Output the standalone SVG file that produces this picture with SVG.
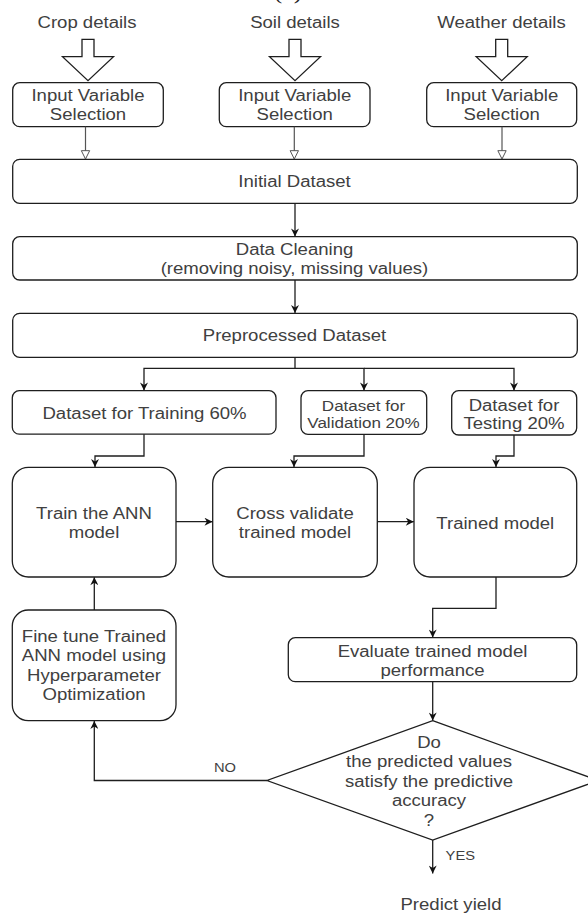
<svg xmlns="http://www.w3.org/2000/svg" width="588" height="914" viewBox="0 0 588 914">
  <defs>
    <style>
      .box { fill: #ffffff; stroke: #1e1e1e; stroke-width: 1.3; }
      .blk { fill: #ffffff; stroke: #1e1e1e; stroke-width: 1.3; stroke-linejoin: miter; }
      .ln { fill: none; stroke: #1e1e1e; stroke-width: 1.3; }
      .ln-open { fill: none; stroke: #555555; stroke-width: 1.2; }
      .t { font-family: "Liberation Sans", Arial, sans-serif; font-size: 16px; fill: #404040; text-anchor: middle; }
      .ts { font-family: "Liberation Sans", Arial, sans-serif; font-size: 14.7px; fill: #404040; text-anchor: middle; }
      .lbl { font-family: "Liberation Sans", Arial, sans-serif; font-size: 12.7px; fill: #404040; text-anchor: middle; }
      .cap { font-family: "Liberation Serif", "Times New Roman", serif; font-size: 22px; fill: #222222; text-anchor: middle; }
    </style>
    <marker id="arrow" viewBox="0 0 10 10" refX="10" refY="5" markerWidth="9" markerHeight="8" markerUnits="userSpaceOnUse" orient="auto">
      <path d="M0,0 L10,5 L0,10 L3,5 z" fill="#111111"/>
    </marker>
    <marker id="open" viewBox="0 0 12 12" refX="11" refY="6" markerWidth="10" markerHeight="11" markerUnits="userSpaceOnUse" orient="auto">
      <path d="M1,1 L11,6 L1,11 z" fill="#ffffff" stroke="#555555" stroke-width="1.2"/>
    </marker>
  </defs>

  <rect width="588" height="914" fill="#ffffff"/>

  <!-- figure caption, cut by the top edge -->
  <text class="cap" transform="translate(288,-1) scale(1.16,1)">(c)</text>

  <!-- source labels and block arrows -->
  <g id="crop-details">
    <text class="t" transform="translate(87,27.5) scale(1.16,1)">Crop details</text>
    <path class="blk" d="M82,39.3 H94 V56.7 H113.5 L88,80.7 L62.5,56.7 H82 Z"/>
  </g>
  <g id="soil-details">
    <text class="t" transform="translate(295,27.5) scale(1.16,1)">Soil details</text>
    <path class="blk" d="M289,39.3 H301 V56.7 H320.5 L295,80.7 L269.5,56.7 H289 Z"/>
  </g>
  <g id="weather-details">
    <text class="t" transform="translate(501.5,27.5) scale(1.16,1)">Weather details</text>
    <path class="blk" d="M495.7,39.3 H507.7 V56.7 H527.2 L501.7,80.7 L476.2,56.7 H495.7 Z"/>
  </g>

  <!-- input variable selection boxes -->
  <g id="select-crop">
    <rect class="box" x="12.7" y="82.7" width="150.6" height="44" rx="7"/>
    <text class="t" transform="translate(88,100.5) scale(1.16,1)">Input Variable</text>
    <text class="t" transform="translate(88,120) scale(1.16,1)">Selection</text>
  </g>
  <g id="select-soil">
    <rect class="box" x="219.3" y="82.7" width="150.7" height="44" rx="7"/>
    <text class="t" transform="translate(294.7,100.5) scale(1.16,1)">Input Variable</text>
    <text class="t" transform="translate(294.7,120) scale(1.16,1)">Selection</text>
  </g>
  <g id="select-weather">
    <rect class="box" x="426.7" y="82.7" width="150" height="44" rx="7"/>
    <text class="t" transform="translate(501.7,100.5) scale(1.16,1)">Input Variable</text>
    <text class="t" transform="translate(501.7,120) scale(1.16,1)">Selection</text>
  </g>

  <!-- dataset pipeline -->
  <g id="initial-dataset">
    <rect class="box" x="12.7" y="159.3" width="564.6" height="44" rx="7"/>
    <text class="t" transform="translate(294.5,187.3) scale(1.16,1)">Initial Dataset</text>
  </g>
  <g id="data-cleaning">
    <rect class="box" x="12.7" y="236.7" width="564.6" height="43.3" rx="7"/>
    <text class="t" transform="translate(294.5,255) scale(1.16,1)">Data Cleaning</text>
    <text class="t" transform="translate(294.5,274) scale(1.16,1)">(removing noisy, missing values)</text>
  </g>
  <g id="preprocessed-dataset">
    <rect class="box" x="12.7" y="313.3" width="564.6" height="44" rx="7"/>
    <text class="t" transform="translate(294.5,340.7) scale(1.16,1)">Preprocessed Dataset</text>
  </g>

  <!-- dataset splits -->
  <g id="train-split">
    <rect class="box" x="12.3" y="390.7" width="263.7" height="43.5" rx="7"/>
    <text class="t" transform="translate(144.5,418.8) scale(1.16,1)">Dataset for Training 60%</text>
  </g>
  <g id="validation-split">
    <rect class="box" x="301" y="390.7" width="125.7" height="43.6" rx="7"/>
    <text class="ts" transform="translate(363.5,410.7) scale(1.16,1)">Dataset for</text>
    <text class="ts" transform="translate(363.5,428.3) scale(1.16,1)">Validation 20%</text>
  </g>
  <g id="test-split">
    <rect class="box" x="451.7" y="390.7" width="125" height="44.3" rx="7"/>
    <text class="t" transform="translate(514,410.7) scale(1.16,1)">Dataset for</text>
    <text class="t" transform="translate(514,428.5) scale(1.16,1)">Testing 20%</text>
  </g>

  <!-- model stages -->
  <g id="train-model">
    <rect class="box" x="12.3" y="467.3" width="163.7" height="109.7" rx="16"/>
    <text class="t" transform="translate(94,519.3) scale(1.16,1)">Train the ANN</text>
    <text class="t" transform="translate(94,538.3) scale(1.16,1)">model</text>
  </g>
  <g id="cross-validate">
    <rect class="box" x="212.7" y="467.3" width="164.6" height="109.7" rx="16"/>
    <text class="t" transform="translate(295,519.3) scale(1.16,1)">Cross validate</text>
    <text class="t" transform="translate(295,538.3) scale(1.16,1)">trained model</text>
  </g>
  <g id="trained-model">
    <rect class="box" x="414" y="467.3" width="162.7" height="109.7" rx="16"/>
    <text class="t" transform="translate(495.3,528.7) scale(1.16,1)">Trained model</text>
  </g>
  <g id="fine-tune">
    <rect class="box" x="12.3" y="610" width="163.7" height="110.7" rx="16"/>
    <text class="t" transform="translate(94,642.3) scale(1.16,1)">Fine tune Trained</text>
    <text class="t" transform="translate(94,661.3) scale(1.16,1)">ANN model using</text>
    <text class="t" transform="translate(94,680.5) scale(1.16,1)">Hyperparameter</text>
    <text class="t" transform="translate(94,700) scale(1.16,1)">Optimization</text>
  </g>
  <g id="evaluate">
    <rect class="box" x="288.3" y="637.7" width="288.4" height="44" rx="7"/>
    <text class="t" transform="translate(432.5,656.7) scale(1.16,1)">Evaluate trained model</text>
    <text class="t" transform="translate(432.5,675.5) scale(1.16,1)">performance</text>
  </g>
  <g id="accuracy-check">
    <path class="box" d="M432.7,720.7 L598.4,780.5 L432.7,840 L267,780.5 Z"/>
    <text class="t" transform="translate(429,748) scale(1.16,1)">Do</text>
    <text class="t" transform="translate(429,767.3) scale(1.16,1)">the predicted values</text>
    <text class="t" transform="translate(429,786.7) scale(1.16,1)">satisfy the predictive</text>
    <text class="t" transform="translate(429,806) scale(1.16,1)">accuracy</text>
    <text class="t" transform="translate(429,825.5) scale(1.16,1)">?</text>
  </g>
  <g id="predict-yield">
    <text class="t" transform="translate(451,909.5) scale(1.16,1)">Predict yield</text>
  </g>

  <!-- connectors -->
  <g id="connectors">
    <line class="ln-open" x1="85.5" y1="126.7" x2="85.5" y2="159" marker-end="url(#open)"/>
    <line class="ln-open" x1="294.3" y1="126.7" x2="294.3" y2="159" marker-end="url(#open)"/>
    <line class="ln-open" x1="502" y1="126.7" x2="502" y2="159" marker-end="url(#open)"/>

    <line class="ln" x1="295" y1="203.3" x2="295" y2="236.5" marker-end="url(#arrow)"/>
    <line class="ln" x1="295" y1="280" x2="295" y2="313.1" marker-end="url(#arrow)"/>

    <path class="ln" d="M295,357.3 V368.3 H144 V390.5" marker-end="url(#arrow)"/>
    <path class="ln" d="M295,368.3 H364 V390.5" marker-end="url(#arrow)"/>
    <path class="ln" d="M364,368.3 H514 V390.5" marker-end="url(#arrow)"/>

    <path class="ln" d="M144,434.2 V456 H95 V467.1" marker-end="url(#arrow)"/>
    <path class="ln" d="M364,434.3 V456 H294 V467.1" marker-end="url(#arrow)"/>
    <path class="ln" d="M514,435 V456 H496 V467.1" marker-end="url(#arrow)"/>

    <line class="ln" x1="176" y1="521.7" x2="212.5" y2="521.7" marker-end="url(#arrow)"/>
    <line class="ln" x1="377.3" y1="521.7" x2="413.8" y2="521.7" marker-end="url(#arrow)"/>

    <line class="ln" x1="94.3" y1="610" x2="94.3" y2="577.2" marker-end="url(#arrow)"/>

    <path class="ln" d="M496,577 V608.3 H432.7 V637.5" marker-end="url(#arrow)"/>
    <line class="ln" x1="432.7" y1="681.7" x2="432.7" y2="720.5" marker-end="url(#arrow)"/>

    <path class="ln" d="M267,780.5 H94.3 V720.9" marker-end="url(#arrow)"/>
    <text class="lbl" transform="translate(225,772) scale(1.16,1)">NO</text>

    <line class="ln" x1="432.7" y1="840" x2="432.7" y2="873.5" marker-end="url(#arrow)"/>
    <text class="lbl" transform="translate(460.3,860) scale(1.16,1)">YES</text>
  </g>
</svg>
